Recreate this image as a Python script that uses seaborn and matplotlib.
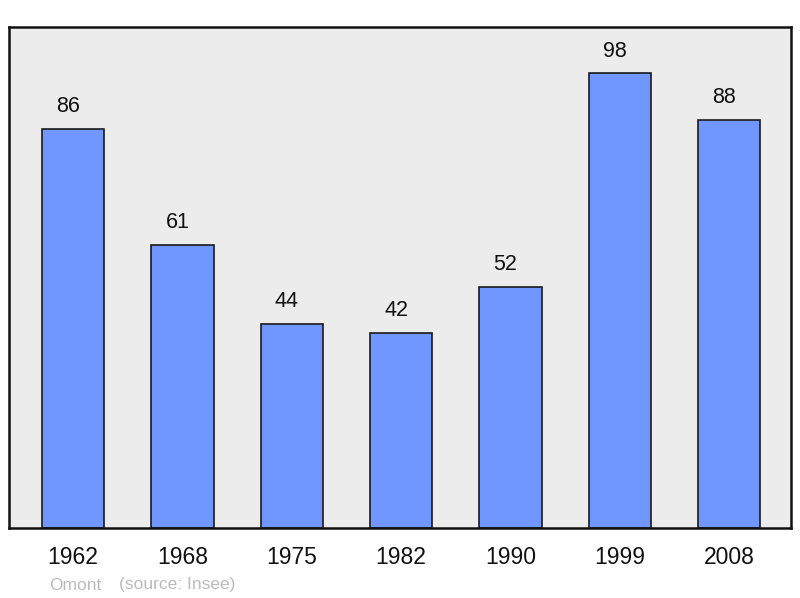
import numpy as np
import matplotlib
matplotlib.use("Agg")
import matplotlib.pyplot as plt
import seaborn as sns

sns.set_style("white")
plt.rcParams['font.family'] = ['Liberation Sans', 'DejaVu Sans']

years = ["1962", "1968", "1975", "1982", "1990", "1999", "2008"]
population = [86, 61, 44, 42, 52, 98, 88]

fig = plt.figure(figsize=(8, 5.98), dpi=100)
ax = fig.add_axes([9 / 800, 1 - 528 / 598, 782 / 800, 501 / 598])
ax.set_facecolor("#ececec")

sns.barplot(x=years, y=population, color="#7096ff", saturation=1,
            width=0.57, edgecolor="#1a1a1a", linewidth=1.2, ax=ax)

# value labels sit a bit left of the bar centre, like the original
for i, v in enumerate(population):
    ax.annotate(str(v), (i, v), xytext=(-3.5, 8.5), textcoords="offset points",
                ha="center", va="bottom", fontsize=15.5, color="#111111")

ax.set_xlim(-0.585, 6.565)
ax.set_ylim(0, 108)
ax.set_yticks([])
ax.set_xlabel("")
ax.set_ylabel("")
ax.tick_params(axis="x", length=0, pad=13, labelsize=16.5, colors="#111111")
for s in ax.spines.values():
    s.set_linewidth(1.8)
    s.set_color("#111111")

fig.text(49 / 800, 1 - 585 / 598, "Omont", fontsize=12.5,
         color="#bbbbbb", va="center", ha="left")
fig.text(119 / 800, 1 - 585 / 598, "(source: Insee)", fontsize=12.5,
         color="#bbbbbb", va="center", ha="left")

fig.savefig("out.png", dpi=100)
